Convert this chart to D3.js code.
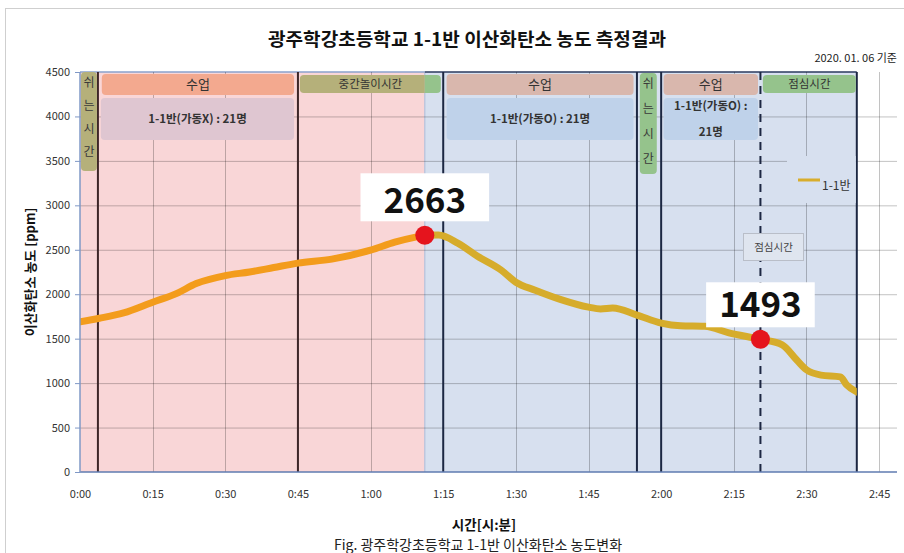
<!DOCTYPE html>
<html>
<head>
<meta charset="utf-8">
<script src="https://cdn.jsdelivr.net/npm/d3@7"></script>
<style>
  body { margin: 0; background: #fff; }
  svg text { font-family: "Noto Sans CJK KR", "Noto Sans", sans-serif; }
</style>
</head>
<body>
<script>
'use strict';

// elapsed time in minutes and CO2 in ppm
const timeMin = [0, 4, 9, 15, 20, 24, 30, 35, 40, 45, 52, 60, 65, 69.5, 71.2, 74, 78, 82, 87, 90, 94, 99, 105, 107.5, 110, 115, 120, 124, 129, 134, 140.5, 145, 148, 150, 153, 157, 158.3, 160.4];
const co2 = [1690, 1730, 1790, 1910, 2010, 2120, 2210, 2250, 2300, 2350, 2395, 2495, 2585, 2645, 2663, 2665, 2575, 2430, 2270, 2135, 2045, 1945, 1855, 1835, 1845, 1765, 1675, 1645, 1640, 1565, 1493, 1430, 1260, 1150, 1090, 1070, 980, 900];

// highlighted points
const peakTime = [71.2, 140.5];
const peakValue = [2663, 1493];

// axes
const xTickMin = [0, 15, 30, 45, 60, 75, 90, 105, 120, 135, 150, 165];
const xTickLabels = ['0:00', '0:15', '0:30', '0:45', '1:00', '1:15', '1:30', '1:45', '2:00', '2:15', '2:30', '2:45'];
const yTicks = [0, 500, 1000, 1500, 2000, 2500, 3000, 3500, 4000, 4500];

// shaded periods: before / after the unit was switched on
const regionStart = [0, 71.2];
const regionEnd = [71.2, 160.4];

// period divider lines (minutes)
const dividerMin = [3.7, 45, 75, 115, 120, 140.5, 160.4];
const dividerDashed = [false, false, false, false, false, true, false];

// schedule boxes
const bandLabel = ['쉬는시간', '수업', '1-1반(가동X) : 21명', '중간놀이시간', '수업', '1-1반(가동O) : 21명', '쉬는시간', '수업', '1-1반(가동O) :|21명', '점심시간'];
const bandStart = [0.2, 4.5, 4.3, 45.4, 75.7, 75.7, 115.6, 120.5, 120.5, 141];
const bandEnd = [3.5, 44.2, 44.2, 74.5, 114.3, 114.3, 119.1, 140, 140, 160.2];
const bandKind = ['vert', 'class', 'info', 'green', 'class', 'info', 'vert', 'class', 'info', 'green'];

const seriesName = '1-1반';

(function() {
  const W = 904, H = 553;
  const svg = d3.select('body').append('svg')
    .attr('width', W)
    .attr('height', H);

  const x = d3.scaleLinear().domain([0, 168.7]).range([80, 897]);
  const y = d3.scaleLinear().domain([0, 4500]).range([472, 72]);

  // outer frame
  svg.append('rect')
    .attr('x', 5.5).attr('y', 8.5)
    .attr('width', 1000).attr('height', 1000)
    .attr('fill', 'none')
    .attr('stroke', '#cfcfcf');

  // clip paths for the two shaded periods
  const defs = svg.append('defs');
  regionStart.forEach((s, i) => {
    defs.append('clipPath').attr('id', 'reg' + i)
      .append('rect')
      .attr('x', x(s)).attr('y', 0)
      .attr('width', x(regionEnd[i]) - x(s))
      .attr('height', H);
  });

  // background periods
  const regionFill = ['#f9d6d7', '#d7e0ef'];
  regionStart.forEach((s, i) => {
    svg.append('rect')
      .attr('x', x(s)).attr('y', y(4500))
      .attr('width', x(regionEnd[i]) - x(s))
      .attr('height', y(0) - y(4500))
      .attr('fill', regionFill[i]);
  });
  // borders of the periods
  svg.append('line')
    .attr('x1', x(0)).attr('x2', x(71.2))
    .attr('y1', y(4500)).attr('y2', y(4500))
    .attr('stroke', '#8aa2cc').attr('stroke-width', 1.5);
  svg.append('line')
    .attr('x1', x(71.2)).attr('x2', x(71.2))
    .attr('y1', y(4500)).attr('y2', y(0))
    .attr('stroke', '#a9bad8').attr('stroke-width', 1);
  svg.append('line')
    .attr('x1', x(71.2)).attr('x2', x(160.4))
    .attr('y1', y(4500)).attr('y2', y(4500))
    .attr('stroke', '#2a3a5e').attr('stroke-width', 1.5);

  // gridlines
  const grid = svg.append('g');
  yTicks.filter((d) => d > 0 && d < 4500).forEach((d) => {
    grid.append('line')
      .attr('x1', x(0)).attr('x2', x(168.7))
      .attr('y1', y(d) + 0.5).attr('y2', y(d) + 0.5)
      .attr('stroke', '#000').attr('stroke-opacity', 0.24);
  });
  xTickMin.filter((d) => d > 0).forEach((d) => {
    grid.append('line')
      .attr('x1', Math.round(x(d)) + 0.5).attr('x2', Math.round(x(d)) + 0.5)
      .attr('y1', y(4500)).attr('y2', y(0))
      .attr('stroke', '#000').attr('stroke-opacity', 0.24);
  });

  // period dividers
  dividerMin.forEach((m, i) => {
    svg.append('line')
      .attr('x1', x(m)).attr('x2', x(m))
      .attr('y1', y(4500)).attr('y2', y(0))
      .attr('stroke', m < 71.2 ? '#3e2628' : '#1c2742')
      .attr('stroke-width', 2)
      .attr('stroke-dasharray', dividerDashed[i] ? '8,6' : null);
  });

  // schedule boxes: each kind has a tint over the pink and over the blue period
  const kindFill = {
    vert: ['#b5b07a', '#95c38c'],
    green: ['#b5b07a', '#95c38c'],
    class: ['#f3a98f', '#d9b7ad'],
    info: ['#dfc6d1', '#bfd2ea']
  };
  const kindY = { vert: [72, 171], green: [75, 93], class: [74, 95], info: [98, 140] };

  bandLabel.forEach((lab, i) => {
    const k = bandKind[i];
    let yy = kindY[k];
    if (k === 'vert' && i > 0) yy = [73, 174];
    const x0 = x(bandStart[i]), x1 = x(bandEnd[i]);
    regionStart.forEach((s, r) => {
      svg.append('rect')
        .attr('clip-path', 'url(#reg' + r + ')')
        .attr('x', x0).attr('y', yy[0])
        .attr('width', x1 - x0).attr('height', yy[1] - yy[0])
        .attr('rx', 4)
        .attr('fill', kindFill[k][r]);
    });
    const cx = (x0 + x1) / 2;
    if (k === 'vert') {
      const step = i > 0 ? 25 : 23;
      lab.split('').forEach((ch, j) => {
        svg.append('text')
          .attr('x', cx).attr('y', yy[0] + 11 + step * j + 4)
          .attr('text-anchor', 'middle')
          .style('font-size', '12px')
          .attr('fill', '#3a3a3a')
          .text(ch);
      });
    } else {
      const lines = lab.split('|');
      const fs = k === 'class' ? 13 : 11.5;
      const lh = 26;
      const midY = (yy[0] + yy[1]) / 2;
      lines.forEach((ln, j) => {
        svg.append('text')
          .attr('x', cx)
          .attr('y', midY + (j - (lines.length - 1) / 2) * lh + fs * 0.36)
          .attr('text-anchor', 'middle')
          .style('font-size', fs + 'px')
          .style('font-weight', k === 'info' ? 600 : 400)
          .attr('fill', '#333')
          .text(ln);
      });
    }
  });

  // legend box
  svg.append('rect')
    .attr('x', 787).attr('y', 156)
    .attr('width', x(160.4) - 787 - 1).attr('height', 47)
    .attr('fill', regionFill[1]);
  svg.append('line')
    .attr('x1', 798).attr('x2', 820)
    .attr('y1', 180).attr('y2', 180)
    .attr('stroke', '#d8ad2b').attr('stroke-width', 3);
  svg.append('text')
    .attr('x', 822).attr('y', 190)
    .style('font-size', '12px')
    .attr('fill', '#333')
    .text(seriesName);

  // the CO2 line, tinted by the period it runs through
  const pts = timeMin.map((t, i) => [t, co2[i]]);
  const line = d3.line()
    .x((d) => x(d[0]))
    .y((d) => y(d[1]))
    .curve(d3.curveMonotoneX);
  const lineColor = ['#f39c1c', '#d6ac2b'];
  regionStart.forEach((s, r) => {
    svg.append('path')
      .datum(pts)
      .attr('clip-path', 'url(#reg' + r + ')')
      .attr('d', line)
      .attr('fill', 'none')
      .attr('stroke', lineColor[r])
      .attr('stroke-width', 7)
      .attr('stroke-linejoin', 'round')
      .attr('stroke-linecap', 'round');
  });

  // lunch note
  svg.append('rect')
    .attr('x', 743.5).attr('y', 233.5)
    .attr('width', 60).attr('height', 27)
    .attr('fill', '#dfe5ef')
    .attr('stroke', '#b9bec8');
  svg.append('text')
    .attr('x', 773.5).attr('y', 251)
    .attr('text-anchor', 'middle')
    .style('font-size', '10.5px')
    .attr('fill', '#444')
    .text('점심시간');

  // highlighted points and value boxes
  peakTime.forEach((t, i) => {
    const px = x(t), py = y(peakValue[i]);
    const g = svg.append('g');
    const box = g.append('rect').attr('fill', '#fff');
    const txt = g.append('text')
      .attr('x', px).attr('y', py - 22)
      .attr('text-anchor', 'middle')
      .style('font-size', '35px')
      .style('font-weight', 600)
      .attr('fill', '#111')
      .text(peakValue[i]);
    const w = txt.node().getComputedTextLength() + (i === 0 ? 46 : 26);
    box.attr('x', px - w / 2).attr('y', py - (i === 0 ? 62 : 57))
      .attr('width', w).attr('height', i === 0 ? 48 : 45);
    svg.append('circle')
      .attr('cx', px).attr('cy', py)
      .attr('r', 9.5)
      .attr('fill', '#e5141d');
  });

  // axes
  svg.append('line')
    .attr('x1', x(0)).attr('x2', x(168.7))
    .attr('y1', y(0)).attr('y2', y(0))
    .attr('stroke', '#5f7bb0').attr('stroke-width', 1.5);
  svg.append('line')
    .attr('x1', x(0)).attr('x2', x(0))
    .attr('y1', y(4500)).attr('y2', y(0))
    .attr('stroke', '#7f98c6').attr('stroke-width', 1.5);

  const yAxis = d3.axisLeft(y).tickValues(yTicks).tickFormat(d3.format('d'))
    .tickSize(5).tickPadding(5);
  svg.append('g')
    .attr('transform', 'translate(' + x(0) + ',0)')
    .call(yAxis)
    .call((g) => g.select('.domain').remove())
    .call((g) => g.selectAll('line').attr('stroke', '#7f98c6'))
    .call((g) => g.selectAll('text')
      .style('font-size', '11px')
      .style('font-family', '"Noto Sans CJK KR", sans-serif')
      .attr('fill', '#333'));

  const xAxis = d3.axisBottom(x).tickValues(xTickMin)
    .tickFormat((d, i) => xTickLabels[i]).tickSize(0).tickPadding(18);
  svg.append('g')
    .attr('transform', 'translate(0,' + y(0) + ')')
    .call(xAxis)
    .call((g) => g.select('.domain').remove())
    .call((g) => g.selectAll('text')
      .style('font-size', '11px')
      .style('font-family', '"Noto Sans CJK KR", sans-serif')
      .attr('fill', '#333'));

  // titles
  svg.append('text')
    .attr('x', 467).attr('y', 46)
    .attr('text-anchor', 'middle')
    .attr('textLength', 398)
    .attr('lengthAdjust', 'spacingAndGlyphs')
    .style('font-size', '18px')
    .style('font-weight', 700)
    .attr('fill', '#111')
    .text('광주학강초등학교 1-1반 이산화탄소 농도 측정결과');

  svg.append('text')
    .attr('x', 897).attr('y', 62)
    .attr('text-anchor', 'end')
    .style('font-size', '11px')
    .attr('fill', '#222')
    .text('2020. 01. 06 기준');

  svg.append('text')
    .attr('transform', 'translate(35, 272)rotate(-90)')
    .attr('text-anchor', 'middle')
    .style('font-size', '13px')
    .style('font-weight', 700)
    .attr('fill', '#111')
    .text('이산화탄소 농도 [ppm]');

  svg.append('text')
    .attr('x', 484).attr('y', 530)
    .attr('text-anchor', 'middle')
    .style('font-size', '13.5px')
    .style('font-weight', 700)
    .attr('fill', '#111')
    .text('시간[시:분]');

  svg.append('text')
    .attr('x', 478).attr('y', 550)
    .attr('text-anchor', 'middle')
    .style('font-size', '14px')
    .attr('fill', '#222')
    .text('Fig. 광주학강초등학교 1-1반 이산화탄소 농도변화');
})();
</script>
</body>
</html>
